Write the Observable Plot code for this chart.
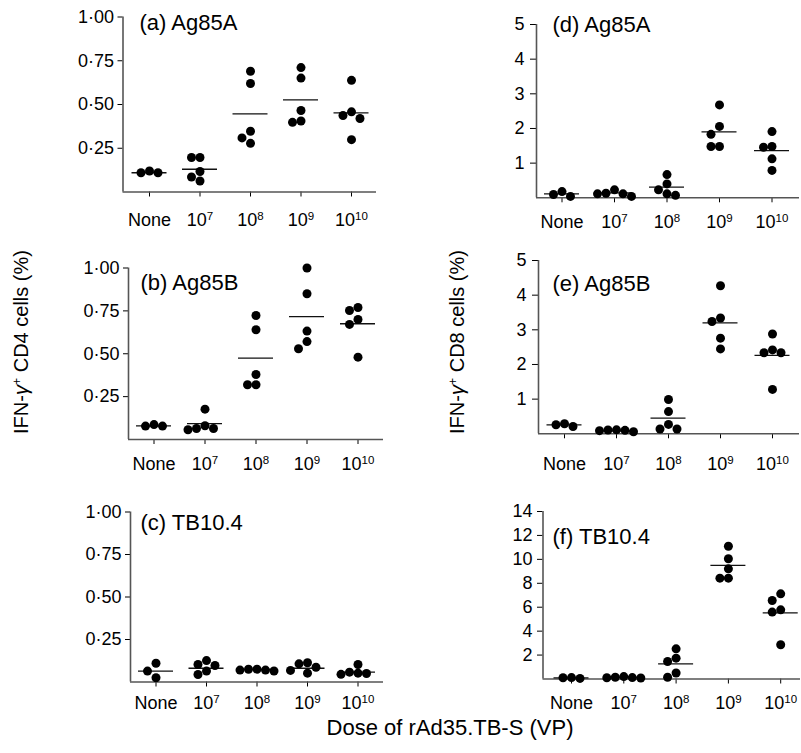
<!DOCTYPE html>
<html>
<head>
<meta charset="utf-8">
<script src="https://cdn.jsdelivr.net/npm/d3@7"></script>
<script src="https://cdn.jsdelivr.net/npm/@observablehq/plot@0.6"></script>
<style>
  body { margin: 0; background: #fff; }
  #fig { position: relative; width: 801px; height: 753px; font-family: "Liberation Sans", Arial, sans-serif; color: #000; overflow: hidden; }
  .panel { position: absolute; }
  .ylab { position: absolute; white-space: nowrap; font-size: 20px; line-height: 1; transform: translate(-50%, -50%) rotate(-90deg); }
  .ylab sup { font-size: 0.62em; vertical-align: 0.55em; line-height: 0; }
  .xlab { position: absolute; white-space: nowrap; font-size: 22px; line-height: 1; transform: translateX(-50%); }
</style>
</head>
<body>
<div id="fig"></div>
<script>
// ---------- data ----------
const doseLabels = ["None", "10^7", "10^8", "10^9", "10^10"];

const cd4Ticks = [0.25, 0.5, 0.75, 1];
const cd8Ticks = [1, 2, 3, 4, 5];
const cd8TbTicks = [2, 4, 6, 8, 10, 12, 14];

// (a) CD4, Ag85A
const cd4Ag85A = [[0.12, 0.11, 0.11], [0.197, 0.197, 0.117, 0.086, 0.063], [0.69, 0.62, 0.347, 0.309, 0.278], [0.711, 0.651, 0.466, 0.406, 0.398], [0.638, 0.458, 0.437, 0.42, 0.299]];
const cd4Ag85AMean = [0.11, 0.13, 0.447, 0.526, 0.452];
// (b) CD4, Ag85B
const cd4Ag85B = [[0.087, 0.078, 0.078], [0.177, 0.08, 0.064, 0.064, 0.057], [0.723, 0.64, 0.379, 0.319, 0.319], [1.0, 0.85, 0.632, 0.571, 0.529], [0.77, 0.752, 0.7, 0.671, 0.48]];
const cd4Ag85BMean = [0.08, 0.093, 0.474, 0.717, 0.675];
// (c) CD4, TB10.4
const cd4TB104 = [[0.11, 0.064, 0.025], [0.126, 0.103, 0.097, 0.064, 0.044], [0.075, 0.075, 0.07, 0.07, 0.065], [0.113, 0.107, 0.087, 0.068, 0.052], [0.103, 0.058, 0.052, 0.05, 0.045]];
const cd4TB104Mean = [0.064, 0.081, 0.074, 0.081, 0.058];
// (d) CD8, Ag85A
const cd8Ag85A = [[0.18, 0.095, 0.04], [0.23, 0.13, 0.115, 0.115, 0.04], [0.67, 0.4, 0.23, 0.115, 0.07], [2.68, 2.06, 1.83, 1.48, 1.48], [1.91, 1.48, 1.46, 1.125, 0.79]];
const cd8Ag85AMean = [0.115, 0.14, 0.306, 1.9, 1.36];
// (e) CD8, Ag85B
const cd8Ag85B = [[0.29, 0.26, 0.21], [0.115, 0.11, 0.1, 0.09, 0.06], [0.99, 0.64, 0.27, 0.14, 0.14], [4.27, 3.34, 3.24, 2.76, 2.45], [2.88, 2.42, 2.34, 2.34, 1.28]];
const cd8Ag85BMean = [0.26, 0.087, 0.45, 3.2, 2.26];
// (f) CD8, TB10.4
const cd8TB104 = [[0.12, 0.1, 0.05], [0.2, 0.15, 0.12, 0.1, 0.08], [2.52, 1.74, 1.46, 0.5, 0.15], [11.1, 10.05, 9.21, 8.43, 8.43], [7.12, 6.56, 5.78, 5.59, 2.86]];
const cd8TB104Mean = [0.09, 0.13, 1.27, 9.49, 5.53];

// ---------- layout ----------
const fmtCD4 = d => d.toFixed(2).replace(".", "\u00B7");
const fmtInt = d => String(d);

const panels = [
  {title: "(a) Ag85A",  vals: cd4Ag85A, means: cd4Ag85AMean, ticks: cd4Ticks,   fmt: fmtCD4, ymax: 1,  col: 0, row: 0,
   axisX: 122.5, x0: 149,   s: 50.5, right: 376, yTop: 16.5, y0: 191.5, titleX: 139, titleBase: 29,  labelBase: 225, yts: 5, ytp: 4},
  {title: "(b) Ag85B",  vals: cd4Ag85B, means: cd4Ag85BMean, ticks: cd4Ticks,   fmt: fmtCD4, ymax: 1,  col: 0, row: 1,
   axisX: 128,   x0: 153.5, s: 51,   right: 383, yTop: 267.5, y0: 439,  titleX: 140, titleBase: 289, labelBase: 469, yts: 5, ytp: 4},
  {title: "(c) TB10.4", vals: cd4TB104, means: cd4TB104Mean, ticks: cd4Ticks,   fmt: fmtCD4, ymax: 1,  col: 0, row: 2,
   axisX: 130,   x0: 155.5, s: 50.5, right: 383, yTop: 511.5, y0: 681.5, titleX: 140, titleBase: 529, labelBase: 708, yts: 5, ytp: 4},
  {title: "(d) Ag85A",  vals: cd8Ag85A, means: cd8Ag85AMean, ticks: cd8Ticks,   fmt: fmtInt, ymax: 5,  col: 1, row: 0,
   axisX: 536,   x0: 561.5, s: 52.5, right: 799, yTop: 24,   y0: 197.3, titleX: 552, titleBase: 31.5, labelBase: 227, yts: 6, ytp: 6},
  {title: "(e) Ag85B",  vals: cd8Ag85B, means: cd8Ag85BMean, ticks: cd8Ticks,   fmt: fmtInt, ymax: 5,  col: 1, row: 1,
   axisX: 538,   x0: 564,   s: 52,   right: 799, yTop: 260,  y0: 433.3, titleX: 552, titleBase: 290.5, labelBase: 469, yts: 6, ytp: 6},
  {title: "(f) TB10.4", vals: cd8TB104, means: cd8TB104Mean, ticks: cd8TbTicks, fmt: fmtInt, ymax: 14, col: 1, row: 2,
   axisX: 542.5, x0: 571,   s: 52.3, right: 800, yTop: 511,  y0: 678.5, titleX: 552, titleBase: 543, labelBase: 708, yts: 5.5, ytp: 5}
];

const colLeft = [0, 400], colWidth = [400, 401], rowTop = [0, 240, 480], rowH = 240;
const tickFs = 18, slotPx = 8.5, minDist = 8.5, halfLine = 17.5;

// Arrange points of one group side by side where they would collide (dot-plot layout)
function dodge(values, yPix) {
  const order = values.map((v, k) => k).sort((p, q) => values[q] - values[p]);
  const placed = [], off = new Array(values.length).fill(0);
  const seq = [0, -1, 1, -2, 2, -3, 3];
  for (const k of order) {
    const py = yPix(values[k]);
    for (const o of seq) {
      const px = o * slotPx;
      if (placed.every(p => Math.hypot(p.x - px, p.y - py) >= minDist)) {
        placed.push({x: px, y: py}); off[k] = px; break;
      }
    }
  }
  return off;
}

const fig = document.getElementById("fig");

for (const g of panels) {
  const L = colLeft[g.col], W = colWidth[g.col], T = rowTop[g.row], H = rowH;
  const mL = g.axisX - L, mR = L + W - g.right, mT = g.yTop - T, mB = T + H - g.y0;
  const xDom = [(g.axisX - g.x0) / g.s, (g.right - g.x0) / g.s];
  const yPix = d3.scaleLinear([0, g.ymax], [g.y0, g.yTop]);

  const rows = [];
  g.vals.forEach((vs, i) => {
    const off = dodge(vs, yPix);
    vs.forEach((v, k) => rows.push({x: i + off[k] / g.s, v}));
  });
  const hw = halfLine / g.s;
  const meanRows = g.means.map((v, i) => ({v, x1: i - hw, x2: i + hw}));

  const svg = Plot.plot({
    width: W, height: H,
    marginLeft: mL, marginRight: mR, marginTop: mT, marginBottom: mB,
    style: {fontFamily: '"Liberation Sans", Arial, sans-serif', fontSize: tickFs + "px", background: "transparent", overflow: "visible", color: "#000"},
    x: {domain: xDom, ticks: [0, 1, 2, 3, 4], tickFormat: i => doseLabels[i], tickSize: 5,
        tickPadding: g.labelBase - g.y0 - 5 - 0.71 * tickFs, label: null},
    y: {domain: [0, g.ymax], ticks: g.ticks, tickFormat: g.fmt, tickSize: g.yts, tickPadding: g.ytp, label: null},
    marks: [
      Plot.ruleY([0], {stroke: "#555", strokeWidth: 1.6}),
      Plot.ruleX([xDom[0]], {y1: 0, y2: g.ymax, stroke: "#555", strokeWidth: 1.6}),
      Plot.ruleY(meanRows, {y: "v", x1: "x1", x2: "x2", stroke: "#111", strokeWidth: 1.3}),
      Plot.dot(rows, {x: "x", y: "v", r: 4.5, fill: "#000", stroke: "none"}),
      Plot.text([g.title], {frameAnchor: "top-left", dx: g.titleX - g.axisX, dy: g.titleBase - g.yTop,
        textAnchor: "start", lineAnchor: "bottom", fontSize: 22, fill: "#000"})
    ]
  });

  // superscript exponents in dose labels
  svg.querySelectorAll('[aria-label^="x-axis"] text').forEach(t => {
    const m = /^10\^(\d+)$/.exec(t.textContent);
    if (m) {
      t.textContent = "10";
      const ts = document.createElementNS("http://www.w3.org/2000/svg", "tspan");
      ts.setAttribute("dy", "-0.5em");
      ts.setAttribute("font-size", "0.64em");
      ts.textContent = m[1];
      t.appendChild(ts);
    }
  });

  svg.classList.add("panel");
  svg.style.left = L + "px";
  svg.style.top = T + "px";
  svg.style.position = "absolute";
  fig.appendChild(svg);
}

// axis titles
function addYLabel(cells, x, y) {
  const d = document.createElement("div");
  d.className = "ylab";
  d.style.left = x + "px";
  d.style.top = y + "px";
  d.innerHTML = "IFN-<i>\u03B3</i><sup>+</sup> " + cells + " cells (%)";
  fig.appendChild(d);
}
addYLabel("CD4", 21, 342);
addYLabel("CD8", 457, 342);

const xl = document.createElement("div");
xl.className = "xlab";
xl.style.left = "450px";
xl.style.top = "717px";
xl.textContent = "Dose of rAd35.TB-S (VP)";
fig.appendChild(xl);
</script>
</body>
</html>
